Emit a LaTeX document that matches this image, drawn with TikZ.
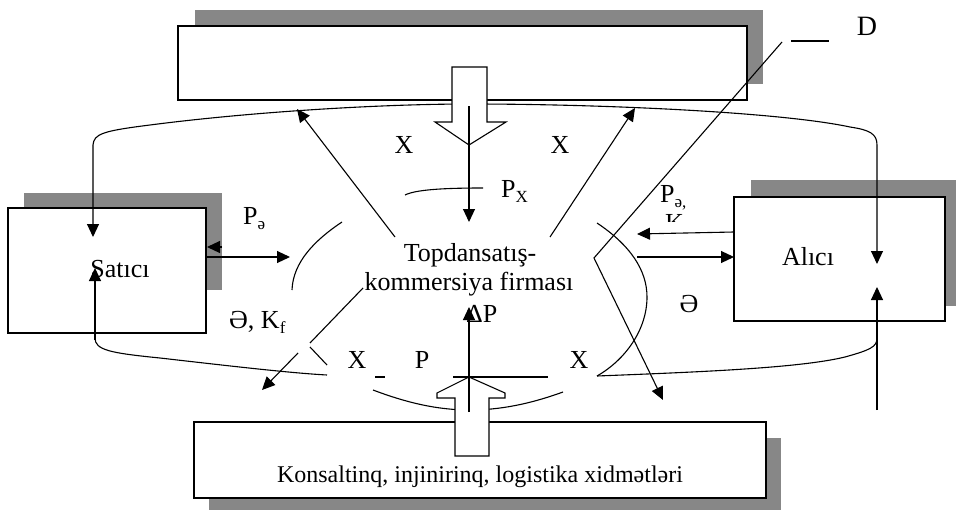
\documentclass[tikz,border=0pt]{standalone}
\usepackage{fontspec}
\setmainfont{Liberation Serif}
\usetikzlibrary{arrows.meta}
\definecolor{shadowgray}{RGB}{135,135,135}
\newcommand{\sbs}[1]{\raisebox{-5pt}{\fontsize{17}{17}\selectfont #1}}
\begin{document}
\begin{tikzpicture}[x=1pt,y=-1pt,
  ln/.style={line width=1.1pt},
  arr/.style={line width=1.1pt,-{Triangle[length=13pt,width=12pt]}},
  boxc/.style={fill=white,draw=black,line width=1.4pt},
  lbl/.style={font=\fontsize{26}{29}\selectfont,inner sep=0pt,anchor=base},
  hollow/.style={fill=white,draw=black,line width=1.1pt,line join=miter}]
\useasboundingbox (0,0) rectangle (956,511);

% shadows
\fill[shadowgray] (195,10) rectangle (763,84);
\fill[shadowgray] (24,193) rectangle (222,290);
\fill[shadowgray] (751,180) rectangle (956,306);
\fill[shadowgray] (209,438) rectangle (781,510);

% boxes
\draw[boxc] (178,26) rectangle (747,100);
\draw[boxc] (8,208) rectangle (206,333);
\draw[boxc] (734,197) rectangle (945,321);
\draw[boxc] (194,422) rectangle (766,498);

% labels
\node[lbl] (satici) at (120,277) {Satıcı};
\node[lbl] (alici) at (808,265) {Alıcı};
\node[lbl] (firm1) at (470,261) {Topdansatış-};
\node[lbl] (firm2) at (469,290) {kommersiya firması};
\node[lbl,font=\fontsize{24}{28}\selectfont] (serv) at (480,482) {Konsaltinq, injinirinq, logistika xidmətləri};
\node[lbl] (xtl) at (404,153) {X};
\node[lbl] (xtr) at (560,153) {X};
\node[lbl,anchor=base west] (px) at (501,197) {P\sbs{X}};
\node[lbl,anchor=base west] (pel) at (243,224) {P\sbs{ə}};
\node[lbl,anchor=base west] (ekf) at (229,328) {Ə, K\sbs{f}};
\node[lbl] (er) at (689,312) {Ə};
\node[lbl,anchor=base west] (per) at (660,202) {P\sbs{ə,}};
\begin{scope}
\clip (650,205) rectangle (700,221);
\node[lbl,anchor=base west] (kr) at (665,231) {K};
\end{scope}
\node[lbl] (xbl) at (357,368) {X};
\node[lbl] (pb) at (422,368) {P};
\node[lbl] (xbr) at (579,368) {X};
\node[lbl,anchor=base west] (dp) at (466,322) {ΔP};
\node[lbl,font=\fontsize{28}{30}\selectfont] (d) at (867,36) {D};

% big loop, top part
\draw[ln,{Triangle[length=13pt,width=12pt]}-{Triangle[length=13pt,width=12pt]}]
  (93,237) -- (93,145) .. controls (94,134) and (102,131) .. (150,125)
  .. controls (250,112) and (380,104) .. (470,104)
  .. controls (600,104) and (780,112) .. (850,127)
  .. controls (870,130) and (877,134) .. (877,145) -- (877,264);
% big loop, bottom parts
\draw[arr] (95,340) -- (95,268);
\draw[ln] (95,338) .. controls (95,350) and (110,353) .. (160,358)
  .. controls (230,366) and (290,373) .. (327,375);
\draw[ln] (597,376) .. controls (700,372) and (800,368) .. (845,357)
  .. controls (870,350) and (877,347) .. (877,338);
\draw[arr] (877,410) -- (877,287);

% central arcs
\draw[ln] (405,195) .. controls (415,190) and (440,188) .. (483,188);
\draw[ln] (342,222) .. controls (315,240) and (293,262) .. (292,290);
\draw[ln] (597,223) .. controls (630,245) and (647,270) .. (647,297)
  .. controls (647,330) and (625,360) .. (597,376);
\draw[ln] (373,390) .. controls (410,404) and (440,410) .. (470,410)
  .. controls (500,410) and (530,404) .. (563,392);
\draw[ln] (310,347) -- (327,365);

% hollow arrows
\draw[hollow] (452,67) -- (487,67) -- (487,122) -- (506,122) -- (469,145)
  -- (435,122) -- (452,122) -- cycle;
\draw[hollow] (455,456) -- (455,398) -- (437,398) -- (437,393) -- (469,377)
  -- (505,393) -- (505,398) -- (489,398) -- (489,456) -- cycle;

% thin arrows
\draw[arr] (469,106) -- (469,222);
\draw[arr] (469,412) -- (469,307);
\draw[ln] (453,377) -- (548,377);
\draw[ln] (375,377) -- (385,377);
\draw[arr] (395,237) -- (297,109);
\draw[arr] (550,237) -- (635,108);
\draw[ln] (363,288) -- (310,343);
\draw[arr] (298,353) -- (262,390);
\draw[arr] (206,257) -- (290,257);
\draw[arr] (222,247) -- (207,247);
\draw[arr] (734,232) -- (637,234);
\draw[arr] (637,257) -- (734,257);
\draw[arr] (782,42) -- (594,258) -- (663,400);
\draw[ln] (791,41) -- (829,41);
\end{tikzpicture}
\end{document}
